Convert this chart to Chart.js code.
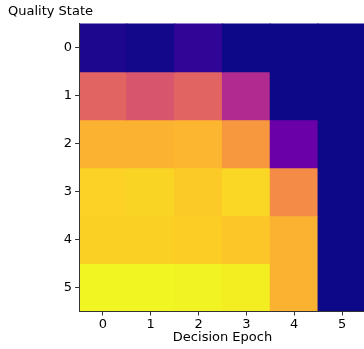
<!DOCTYPE html>
<html>
<head>
<meta charset="utf-8">
<script src="https://cdn.jsdelivr.net/npm/chart.js@4.4.0/dist/chart.umd.min.js"></script>
<style>
  html, body { margin: 0; padding: 0; background: #fff; overflow: hidden; }
  #wrap { width: 366px; height: 349px; }
</style>
</head>
<body>
<div id="wrap"><canvas id="heat"></canvas></div>
<script>
// decision epochs (columns) and quality states (rows)
const epochs = ['0', '1', '2', '3', '4', '5'];
const states = [0, 1, 2, 3, 4, 5];

// cell values per quality state (0..1)
const state0 = [0.03, 0.01, 0.07, 0.0, 0.0, 0.0];
const state1 = [0.60, 0.55, 0.60, 0.40, 0.0, 0.0];
const state2 = [0.83, 0.83, 0.84, 0.76, 0.20, 0.0];
const state3 = [0.91, 0.915, 0.89, 0.92, 0.72, 0.0];
const state4 = [0.905, 0.905, 0.90, 0.88, 0.83, 0.0];
const state5 = [0.99, 0.99, 0.985, 0.975, 0.83, 0.0];
const rows = [state0, state1, state2, state3, state4, state5];

// plasma colormap stops
const plasma = ['#0d0887', '#41049d', '#6a00a8', '#8f0da4', '#b12a90', '#cc4778',
                '#e16462', '#f2844b', '#fca636', '#fcce25', '#f0f921'];

function hexToRgb(h) {
    return [parseInt(h.slice(1, 3), 16), parseInt(h.slice(3, 5), 16), parseInt(h.slice(5, 7), 16)];
}

function plasmaColor(v) {
    const t = Math.max(0, Math.min(1, v)) * (plasma.length - 1);
    const i = Math.min(Math.floor(t), plasma.length - 2);
    const f = t - i;
    const a = hexToRgb(plasma[i]);
    const b = hexToRgb(plasma[i + 1]);
    const c = a.map((x, k) => Math.round(x + (b[k] - x) * f));
    return `rgb(${c[0]}, ${c[1]}, ${c[2]})`;
}

const datasets = rows.map((vals, r) => ({
    label: 'state ' + r,
    data: vals.map(() => [states[r] - 0.5, states[r] + 0.5]),
    backgroundColor: vals.map(v => plasmaColor(v)),
    borderWidth: 0,
    inflateAmount: 0.6,
    barPercentage: 1,
    categoryPercentage: 1,
    grouped: false
}));

const font = { family: 'DejaVu Sans', size: 13, weight: 'normal' };

new Chart(document.getElementById('heat'), {
    type: 'bar',
    data: { labels: epochs, datasets: datasets },
    options: {
        responsive: true,
        maintainAspectRatio: false,
        animation: false,
        layout: { padding: { left: 8, right: 0, top: 0, bottom: 0 } },
        plugins: {
            legend: { display: false },
            tooltip: { enabled: false },
            title: {
                display: true,
                text: 'Quality State',
                align: 'start',
                color: '#000',
                font: font,
                padding: { top: 4, bottom: 4 }
            }
        },
        scales: {
            x: {
                type: 'category',
                offset: true,
                afterFit: scale => { scale.height = 37.5; },
                grid: { display: true, drawOnChartArea: false, drawTicks: true, tickLength: 4, offset: false, color: '#333' },
                border: { display: true, color: '#333', width: 1, z: 1 },
                ticks: { color: '#000', font: font, padding: 1, maxRotation: 0 },
                title: { display: true, text: 'Decision Epoch', color: '#000', font: font, padding: { top: 0, bottom: 4 } }
            },
            y: {
                type: 'linear',
                reverse: true,
                min: -0.5,
                max: 5.5,
                afterBuildTicks: scale => { scale.ticks = states.map(v => ({ value: v })); },
                afterFit: scale => { scale.width = 71; },
                grid: { display: true, drawOnChartArea: false, drawTicks: true, tickLength: 4, color: '#333' },
                border: { display: true, color: '#333', width: 1, z: 1 },
                ticks: { color: '#000', font: font, padding: 3 }
            }
        }
    }
});
</script>
</body>
</html>
